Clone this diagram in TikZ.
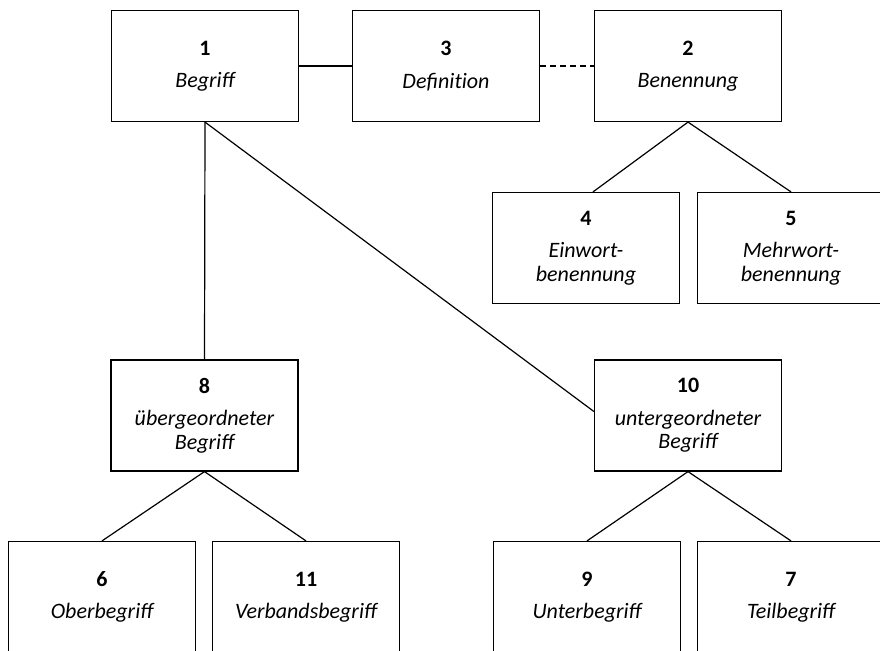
\documentclass[tikz,border=0pt]{standalone}
\usepackage{fontspec}
\setmainfont{Carlito}
\newcommand{\tmno}[1]{{\upshape\bfseries #1}\\[9pt]}
\begin{document}
\begin{tikzpicture}[x=1pt,y=-1pt,line width=1.2pt,
  font=\fontsize{22}{23.5}\selectfont,
  term/.style={draw,rectangle,minimum width=187pt,minimum height=111pt,
    align=center,inner sep=2pt,font=\fontsize{22}{23.5}\selectfont\itshape},
  link/.style={draw},
  weak/.style={draw,dash pattern=on 6pt off 4pt}]
  \clip (0,0) rectangle (880,650);
  % top row
  \node[term] (b1) at (205,66) {\tmno{1}Begriff};
  \node[term] (b3) at (446,66) {\tmno{3}Defini\mbox{t}ion};
  \node[term] (b2) at (688,66) {\tmno{2}Benennung};
  % kinds of Benennung
  \node[term] (b4) at (586,248) {\tmno{4}Einwort-\\benennung};
  \node[term] (b5) at (791,248) {\tmno{5}Mehrwort-\\benennung};
  % middle row
  \node[term] (b8) at (204.5,415.5) {\tmno{8}übergeordneter\\Begriff};
  \node[term] (b10) at (688,415.5) {\tmno{10}untergeordneter\\Begriff};
  % bottom row
  \node[term] (b6) at (102,597) {\tmno{6}Oberbegriff};
  \node[term] (b11) at (306,597) {\tmno{11}Verbandsbegriff};
  \node[term] (b9) at (587,597) {\tmno{9}Unterbegriff};
  \node[term] (b7) at (791,597) {\tmno{7}Teilbegriff};
  % connectors
  \draw[link] (b1.east) -- (b3.west);
  \draw[weak] (b3.east) -- (b2.west);
  \draw[link] (b2.south) -- ([xshift=7pt]b4.north);
  \draw[link] (b2.south) -- (b5.north);
  \draw[link] (b1.south) -- (b8.north);
  \draw[link] (b1.south) -- ([yshift=4pt]b10.west);
  \foreach \c in {b6,b11} \draw[link] (b8.south) -- (\c.north);
  \foreach \c in {b9,b7} \draw[link] (b10.south) -- (\c.north);
\end{tikzpicture}
\end{document}
